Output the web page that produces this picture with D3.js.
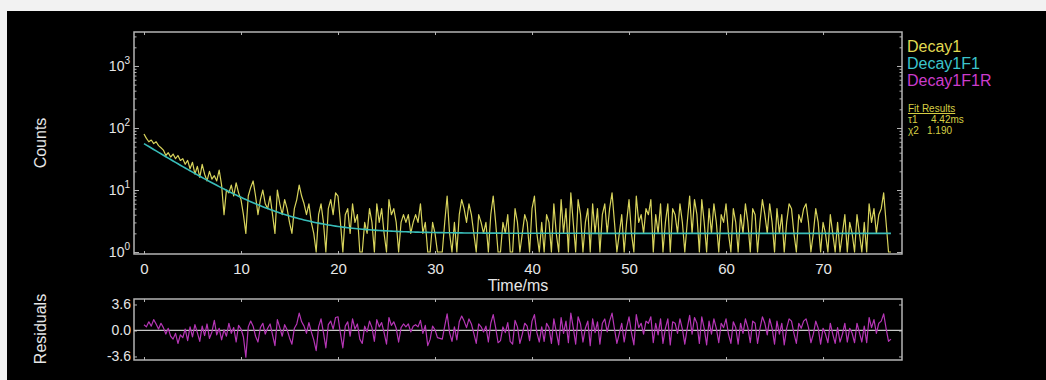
<!DOCTYPE html>
<html>
<head>
<meta charset="utf-8">
<script src="https://cdn.jsdelivr.net/npm/d3@7"></script>
<style>
  html, body { margin: 0; padding: 0; background: #f2f2f2; }
  svg { display: block; font-family: "Liberation Sans", Arial, sans-serif; }
</style>
</head>
<body>
<svg id="chart" width="1046" height="380"></svg>
<script>
// Time base of the recorded decay (ms)
const timeStart = 0;
const timeStep = 0.25;

// Photon counts per channel (Decay1)
const decayCounts = [
  80,68,60,64,56,60,52,48,44,36, 40,34,38,32,36,30,32,26,30,22,
  28,18,24,16,26,18,14,20,15,17, 14,21,12,4,10,9,12,8,13,9,
  7,4,2,8,11,14,8,4,7,10, 6,5,8,4,2,10,6,4,7,5,
  3,2,5,7,12,8,6,4,6,3, 2,1,4,6,3,1,5,7,4,9,
  8,3,1,4,5,2,6,3,4,1, 1,3,2,5,3,1,6,3,5,2,
  1,7,4,5,3,1,3,4,3,4, 2,3,4,3,6,2,3,1,1,3,
  2,1,1,1,3,8,2,1,3,1, 4,7,5,3,6,4,2,1,4,3,
  2,3,1,4,8,3,1,1,3,2, 4,1,1,5,3,1,2,4,3,1,
  5,8,2,1,3,1,4,3,1,6, 2,1,7,2,5,1,9,3,1,7,
  4,1,3,5,1,6,2,5,1,4, 6,2,5,9,3,1,2,4,1,3,
  7,2,1,8,3,4,2,5,4,7, 1,4,2,6,1,3,6,1,5,4,
  2,6,3,1,3,8,2,7,4,1, 7,3,1,5,2,6,3,1,4,3,
  6,2,1,5,3,1,4,2,6,3, 1,5,4,1,3,7,4,2,6,3,
  1,5,2,4,1,3,6,5,2,1, 4,3,5,6,3,1,2,5,3,1,
  3,2,1,4,2,1,3,1,2,4, 1,3,2,1,4,2,1,3,1,6,
  3,5,2,4,5,9,3,1,1
];

// Weighted residuals of the fit (Decay1F1R)
const residuals = [
  0.8,0.5,1.2,0.6,1.5,0.9,0.2,1.0,0.4,-0.5, 0.3,-0.8,-1.2,-0.4,-1.8,-0.6,-1.0,0.2,-1.4,0.5,
  -0.9,0.8,-0.3,-1.5,0.6,-0.7,0.9,-1.1,-0.2,1.4, -0.6,0.3,-1.3,0.1,-0.8,1.0,-0.4,0.4,-1.6,0.7,
  0.2,-0.9,-3.7,0.5,1.3,0.6,-0.8,-1.6,0.4,1.0, -0.5,0.3,0.9,-0.6,-2.1,1.5,0.4,-0.8,0.8,0.1,
  -1.0,-1.9,0.3,0.9,2.4,1.2,0.6,-0.4,1.1,-0.2, -1.3,-2.8,0.5,1.6,-0.3,-2.4,0.8,1.3,0.2,1.8,
  1.9,-0.4,-2.4,0.6,1.2,-0.8,1.6,0.2,0.9,-1.2, -1.8,0.6,-0.2,1.3,0.4,-1.5,1.5,0.5,1.1,-0.3,
  -1.9,1.8,0.7,1.2,0.3,-1.6,0.4,0.9,0.5,0.9, -0.2,0.6,0.8,0.5,1.4,-0.4,0.7,-2.1,-1.2,0.6,
  0.1,-1.0,-1.1,-1.2,0.6,2.3,-0.3,-1.5,0.5,-1.3, 1.2,2.0,1.3,0.4,1.6,0.9,-0.4,-1.8,0.9,0.5,
  -0.2,0.6,-1.6,1.0,2.2,0.4,-1.7,-1.4,0.5,-0.3, 1.1,-1.5,-1.9,1.4,0.5,-1.8,-0.5,1.0,0.6,-1.4,
  1.3,2.2,-0.3,-1.6,0.5,-1.5,1.0,0.4,-1.8,1.6, -0.2,-2.0,1.8,-0.4,1.3,-1.7,2.4,0.4,-1.9,1.9,
  0.9,-1.6,0.3,1.3,-2.1,1.6,-0.3,1.2,-1.9,1.0, 1.6,-0.2,1.3,2.4,0.2,-1.8,-0.4,1.0,-1.6,0.4,
  1.9,-0.3,-2.0,2.2,0.4,1.0,-0.5,1.3,1.0,1.9, -1.7,1.0,-0.6,1.6,-1.8,0.3,1.6,-2.0,1.2,1.0,
  -0.4,1.6,0.2,-1.9,0.3,2.1,-0.5,1.8,1.0,-1.8, 1.9,0.3,-2.0,1.3,-0.5,1.6,0.3,-1.7,1.0,0.4,
  1.6,-0.5,-1.8,1.2,0.4,-1.9,1.0,-0.4,1.6,0.4, -1.7,1.3,1.0,-1.8,0.3,1.9,1.0,-0.6,1.6,0.3,
  -1.9,1.3,-0.5,1.0,-2.0,0.3,1.6,1.3,-0.4,-1.8, 1.0,0.3,1.3,1.6,0.4,-1.7,-0.5,1.3,0.3,-1.9,
  0.3,-0.5,-1.7,1.0,-0.5,-1.8,0.4,-1.6,-0.5,1.0, -1.6,0.3,-0.4,-1.7,1.0,-0.3,-1.6,0.6,-1.7,1.8,
  0.4,1.5,-0.4,1.0,1.3,2.3,0.3,-1.5,-1.2
];

// Single-exponential fit (Decay1F1): A·exp(-t/τ1) + background
const fitTau = 4.42;        // ms
const fitAmplitude = 54;    // counts
const fitBackground = 2;    // counts
const fitChi2 = 1.190;

// Axis ticks and legend
const timeTicks = [0, 10, 20, 30, 40, 50, 60, 70];
const countExponents = [0, 1, 2, 3];
const residualTicks = [-3.6, 0, 3.6];
const legendNames = ["Decay1", "Decay1F1", "Decay1F1R"];
const legendColors = ["#e2da52", "#3cc4cc", "#cc3ccc"];

const svg = d3.select("#chart");

// Dark canvas
svg.append("rect").attr("x", 7).attr("y", 11).attr("width", 1039).attr("height", 369).attr("fill", "#000");

const frameColor = "#b4b4b4";
const labelColor = "#e6e6e6";

// Scales
const x = d3.scaleLinear().domain([-1.03, 78.14]).range([134, 902]);
const y = d3.scaleLog().domain([Math.pow(10, -0.032), Math.pow(10, 3.548)]).range([254, 32]);
const yr = d3.scaleLinear().domain([-4.09, 4.36]).range([360, 299]);

const times = decayCounts.map((_, i) => timeStart + i * timeStep);

// ---------- Decay panel ----------
const decayPanel = svg.append("g");

decayPanel.append("rect")
  .attr("x", x.range()[0]).attr("y", y.range()[1])
  .attr("width", x.range()[1] - x.range()[0]).attr("height", y.range()[0] - y.range()[1])
  .attr("fill", "none").attr("stroke", frameColor).attr("stroke-width", 1.5);

// x ticks (inward) with labels below
decayPanel.append("g").attr("transform", `translate(0,${y.range()[0]})`)
  .call(d3.axisBottom(x).tickValues(timeTicks).tickSize(-3).tickPadding(9).tickFormat(d3.format("d")));
decayPanel.append("g").attr("transform", `translate(0,${y.range()[1]})`)
  .call(d3.axisTop(x).tickValues(timeTicks).tickSize(-3).tickFormat(""));

// log y ticks: majors and minors on both sides
const minors = [];
for (let e = 0; e <= 3; e++) for (let m = 2; m <= 9; m++) {
  const v = m * Math.pow(10, e);
  if (v < y.domain()[1]) minors.push(v);
}
const majors = countExponents.map(e => Math.pow(10, e));

decayPanel.append("g").attr("transform", `translate(${x.range()[0]},0)`)
  .call(d3.axisLeft(y).tickValues(majors).tickSize(-5).tickFormat(""));
decayPanel.append("g").attr("transform", `translate(${x.range()[0]},0)`)
  .call(d3.axisLeft(y).tickValues(minors).tickSize(-2.5).tickFormat(""));
decayPanel.append("g").attr("transform", `translate(${x.range()[1]},0)`)
  .call(d3.axisRight(y).tickValues(majors).tickSize(-5).tickFormat(""));
decayPanel.append("g").attr("transform", `translate(${x.range()[1]},0)`)
  .call(d3.axisRight(y).tickValues(minors).tickSize(-2.5).tickFormat(""));

// power-of-ten labels
const expLabels = decayPanel.append("g");
countExponents.forEach(e => {
  const t = expLabels.append("text")
    .attr("x", 130).attr("y", y(Math.pow(10, e)) + 5)
    .attr("text-anchor", "end").attr("fill", labelColor).attr("font-size", 14);
  t.append("tspan").text("10");
  t.append("tspan").attr("dy", -7).attr("font-size", 10).text(e);
});

// Data trace
const decayLine = d3.line().x((d, i) => x(times[i])).y(d => y(d));
decayPanel.append("path").datum(decayCounts)
  .attr("d", decayLine)
  .attr("fill", "none").attr("stroke", "#d8d45c").attr("stroke-width", 1.2)
  .attr("stroke-linejoin", "round");

// Fit curve
const fitValues = times.map(t => fitAmplitude * Math.exp(-t / fitTau) + fitBackground);
decayPanel.append("path").datum(fitValues)
  .attr("d", decayLine)
  .attr("fill", "none").attr("stroke", "#38bcb8").attr("stroke-width", 1.6);

// Axis titles
svg.append("text").attr("x", 518).attr("y", 291).attr("text-anchor", "middle")
  .attr("fill", labelColor).attr("font-size", 16).text("Time/ms");
svg.append("text").attr("transform", "translate(46,143) rotate(-90)").attr("text-anchor", "middle")
  .attr("fill", labelColor).attr("font-size", 16).text("Counts");
svg.append("text").attr("transform", "translate(46,329) rotate(-90)").attr("text-anchor", "middle")
  .attr("fill", labelColor).attr("font-size", 16).text("Residuals");

// ---------- Residual panel ----------
const residualPanel = svg.append("g");
residualPanel.append("rect")
  .attr("x", x.range()[0]).attr("y", yr.range()[1])
  .attr("width", x.range()[1] - x.range()[0]).attr("height", yr.range()[0] - yr.range()[1])
  .attr("fill", "none").attr("stroke", frameColor).attr("stroke-width", 1.5);

residualPanel.append("g").attr("transform", `translate(0,${yr.range()[0]})`)
  .call(d3.axisBottom(x).tickValues(timeTicks).tickSize(-3).tickFormat(""));
residualPanel.append("g").attr("transform", `translate(0,${yr.range()[1]})`)
  .call(d3.axisTop(x).tickValues(timeTicks).tickSize(-3).tickFormat(""));
residualPanel.append("g").attr("class", "res-left").attr("transform", `translate(${x.range()[0]},0)`)
  .call(d3.axisLeft(yr).tickValues(residualTicks).tickSize(-3).tickPadding(3)
    .tickFormat(d => d.toFixed(1)));
residualPanel.append("g").attr("transform", `translate(${x.range()[1]},0)`)
  .call(d3.axisRight(yr).tickValues(residualTicks).tickSize(-3).tickFormat(""));

// zero reference
residualPanel.append("line")
  .attr("x1", x.range()[0]).attr("x2", x.range()[1])
  .attr("y1", yr(0)).attr("y2", yr(0))
  .attr("stroke", "#c8c8c8").attr("stroke-width", 1.3);

const resLine = d3.line().x((d, i) => x(times[i])).y(d => yr(d));
residualPanel.append("path").datum(residuals)
  .attr("d", resLine)
  .attr("fill", "none").attr("stroke", "#b636b6").attr("stroke-width", 1.2)
  .attr("stroke-linejoin", "round");

// axis styling
svg.selectAll(".domain").remove();
svg.selectAll(".tick line").attr("stroke", frameColor);
svg.selectAll(".tick text").attr("fill", labelColor).attr("font-size", 15)
  .attr("font-family", "'Liberation Sans', Arial, sans-serif");
residualPanel.selectAll(".res-left .tick text").attr("font-size", 14);

// ---------- Legend ----------
const legend = svg.append("g");
legendNames.forEach((name, i) => {
  legend.append("text").attr("x", 907).attr("y", 52 + i * 17)
    .attr("fill", legendColors[i]).attr("font-size", 16).text(name);
});
const fitColor = "#d6ce44";
legend.append("text").attr("x", 908).attr("y", 112).attr("fill", fitColor)
  .attr("font-size", 10).attr("text-decoration", "underline").text("Fit Results");
legend.append("text").attr("x", 908).attr("y", 123).attr("fill", fitColor)
  .attr("font-size", 10).text("τ1");
legend.append("text").attr("x", 931).attr("y", 123).attr("fill", fitColor)
  .attr("font-size", 10).text(fitTau.toFixed(2) + "ms");
legend.append("text").attr("x", 908).attr("y", 134).attr("fill", fitColor)
  .attr("font-size", 10).text("χ2");
legend.append("text").attr("x", 927).attr("y", 134).attr("fill", fitColor)
  .attr("font-size", 10).text(fitChi2.toFixed(3));
</script>
</body>
</html>
